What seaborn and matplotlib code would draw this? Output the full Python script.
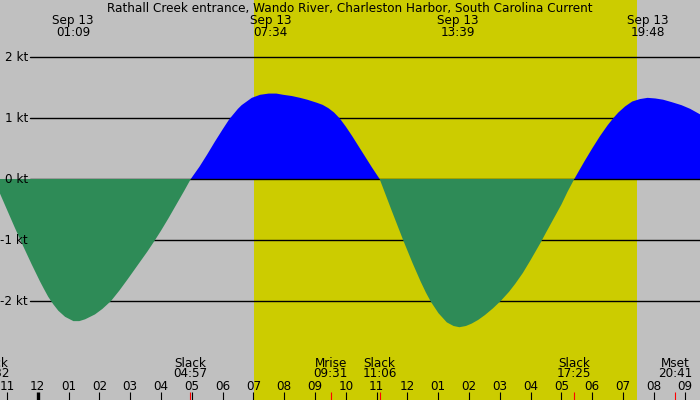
import numpy as np
import pandas as pd
import matplotlib
matplotlib.use("Agg")
import matplotlib.pyplot as plt
import matplotlib.transforms as mtransforms
import seaborn as sns

title = "Rathall Creek entrance, Wando River, Charleston Harbor, South Carolina Current"

# current speed (kt), hours since midnight Sep 13
hours = [-1.47, -1.224, -1.0, -0.75, -0.5, -0.195, 0.075, 0.2, 0.34, 0.5, 0.67, 0.89, 1.16, 1.35,
         1.54, 1.86, 2.1, 2.38, 2.65, 2.94, 3.32, 3.56, 3.81, 4.0, 4.25, 4.5, 4.75, 4.97,
         5.25, 5.5, 5.75, 6.0, 6.22, 6.5, 6.62, 6.95, 7.22, 7.5, 7.75, 7.97, 8.25, 8.52, 8.75,
         9.06, 9.25, 9.44, 9.62, 9.81, 10.0, 10.2, 10.4, 10.6, 10.85, 11.1,
         11.5, 11.87, 12.17, 12.43, 12.6, 12.76, 13.01, 13.28, 13.5, 13.69, 13.9, 14.09, 14.3,
         14.52, 14.78, 15.03, 15.3, 15.5, 15.75, 16.0, 16.33, 16.5, 16.75, 17.0, 17.2, 17.42,
         17.75, 18.0, 18.25, 18.5, 18.69, 18.85, 19.07, 19.3, 19.55, 19.8, 20.05, 20.3, 20.58,
         20.9, 21.18, 21.5]
speed = [0.0, -0.24, -0.50, -0.79, -1.07, -1.40, -1.68, -1.80, -1.93, -2.05, -2.16, -2.26, -2.33, -2.33,
         -2.30, -2.22, -2.13, -2.0, -1.83, -1.63, -1.36, -1.19, -1.0, -0.85, -0.64, -0.42, -0.20, 0.0,
         0.20, 0.40, 0.61, 0.81, 0.98, 1.15, 1.21, 1.33, 1.38, 1.40, 1.40, 1.38, 1.36, 1.33, 1.30,
         1.25, 1.215, 1.16, 1.09, 0.99, 0.86, 0.71, 0.55, 0.39, 0.19, 0.0,
         -0.53, -1.01, -1.38, -1.68, -1.86, -2.01, -2.2, -2.35, -2.41, -2.43, -2.41, -2.37, -2.31,
         -2.23, -2.12, -2.0, -1.85, -1.72, -1.54, -1.33, -1.04, -0.88, -0.65, -0.42, -0.21, 0.0,
         0.29, 0.50, 0.70, 0.88, 1.0, 1.09, 1.19, 1.27, 1.31, 1.33, 1.32, 1.30, 1.26,
         1.21, 1.15, 1.06]

# extremes (top labels)
max_hours = [1.15, 7.567, 13.65, 19.8]
max_labels = ["01:09", "07:34", "13:39", "19:48"]
date_label = "Sep 13"

# events (bottom labels)
event_hours = [-1.467, 4.95, 9.517, 11.1, 17.417, 20.683]
event_names = ["Slack", "Slack", "Mrise", "Slack", "Slack", "Mset"]
event_times = ["22:32", "04:57", "09:31", "11:06", "17:25", "20:41"]

# hour ticks
tick_hours = list(range(-1, 22))
tick_labels = ["11", "12", "01", "02", "03", "04", "05", "06", "07", "08", "09", "10", "11",
               "12", "01", "02", "03", "04", "05", "06", "07", "08", "09"]

# daylight
sunrise, sunset = 7.02, 19.47

# speed grid
grid_levels = [2, 1, 0, -1, -2]
grid_labels = ["2 kt", "1 kt", "0 kt", "-1 kt", "-2 kt"]

GRAY = "#c0c0c0"
YELLOW = "#cccc00"
BLUE = "#0000ff"
GREEN = "#2e8b57"
FS = 8.64

sns.set_style("white")
plt.rcParams["font.family"] = ["DejaVu Sans"]
plt.rcParams["text.color"] = "black"

fig = plt.figure(figsize=(7, 4), dpi=100)
fig.patch.set_facecolor(GRAY)
ax = fig.add_axes([0, 0, 1, 1])
ax.set_facecolor(GRAY)
ax.set_xlim(-1.224, 21.50)
ax.set_ylim(-3.623, 2.934)
for s in ax.spines.values():
    s.set_visible(False)
ax.set_xticks([])
ax.set_yticks([])

ax.axvspan(sunrise, sunset, color=YELLOW, lw=0, zorder=0.5)

df = pd.DataFrame({"hour": hours, "speed": speed})
sns.lineplot(data=df, x="hour", y="speed", ax=ax, lw=0, color=BLUE, sort=False)
ax.set_xlabel("")
ax.set_ylabel("")

h = df["hour"].to_numpy()
v = df["speed"].to_numpy()

for lvl in grid_levels:
    if lvl == 0:
        continue
    ax.axhline(lvl, xmin=30 / 700, xmax=1, color="black", lw=1.0, zorder=1)

ax.fill_between(h, v, 0, where=v >= 0, interpolate=True, color=BLUE, lw=0, zorder=2)
ax.axhline(0, xmin=30 / 700, xmax=1, color="black", lw=1.0, zorder=2.5)
ax.fill_between(h, v, 0, where=v <= 0, interpolate=True, color=GREEN, lw=0, zorder=3)

ytr = mtransforms.offset_copy(ax.get_yaxis_transform(), fig=fig, x=0, y=-4, units="dots")
for lvl, lab in zip(grid_levels, grid_labels):
    ax.text(28 / 700, lvl, lab, transform=ytr, ha="right", va="baseline",
            fontsize=FS, color="black", zorder=5)

xtr = ax.get_xaxis_transform()
ax.text(0.5, 0.971, title, transform=ax.transAxes, ha="center", va="baseline",
        fontsize=FS, color="black", zorder=5)
for mh, ml in zip(max_hours, max_labels):
    ax.text(mh, 0.939, date_label, transform=xtr, ha="center", va="baseline",
            fontsize=FS, color="black", zorder=5)
    ax.text(mh, 0.910, ml, transform=xtr, ha="center", va="baseline",
            fontsize=FS, color="black", zorder=5)

for eh, en, et in zip(event_hours, event_names, event_times):
    ax.text(eh, 0.0833, en, transform=xtr, ha="center", va="baseline",
            fontsize=FS, color="black", zorder=5)
    ax.text(eh, 0.0568, et, transform=xtr, ha="center", va="baseline",
            fontsize=FS, color="black", zorder=5)
    ax.vlines(eh, 0, 8 / 400, transform=xtr, color="red", lw=0.8, zorder=6)

for th, tl in zip(tick_hours, tick_labels):
    ax.text(th, 0.025, tl, transform=xtr, ha="center", va="baseline",
            fontsize=FS, color="black", zorder=5)
    ax.vlines(th, 0, 8 / 400, transform=xtr, color="black",
              lw=2.4 if th == 0 else 0.8, zorder=6)

fig.savefig("out.png", dpi=100, facecolor=GRAY)
